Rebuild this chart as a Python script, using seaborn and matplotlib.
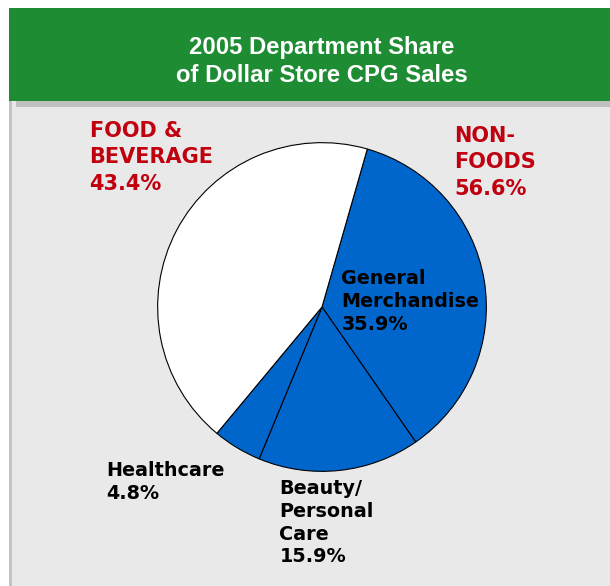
import matplotlib
matplotlib.use("Agg")
import matplotlib.pyplot as plt
from matplotlib.patches import Rectangle
import seaborn as sns

# ---- data ----
title_lines = ["2005 Department Share", "of Dollar Store CPG Sales"]
segments = ["General\nMerchandise", "Beauty/\nPersonal\nCare", "Healthcare", "FOOD &\nBEVERAGE"]
shares = [35.9, 15.9, 4.8, 43.4]
groups = ["FOOD &\nBEVERAGE", "NON-\nFOODS"]
group_shares = [43.4, 56.6]

# ---- style ----
sns.set_theme(style="white")
plt.rcParams["font.family"] = ["DejaVu Sans"]

W, H = 610, 586
GREEN = "#1e8c32"
BLUE = "#0066cc"
RED = "#c0000f"
PANEL = "#e9e9e9"

fig = plt.figure(figsize=(W / 100, H / 100), dpi=100)
fig.patch.set_facecolor("white")

# background axes in pixel coordinates
bg = fig.add_axes([0, 0, 1, 1])
bg.set_xlim(0, W)
bg.set_ylim(H, 0)
bg.axis("off")
bg.add_patch(Rectangle((9, 101), W - 9, H - 101, facecolor=PANEL, edgecolor="none"))
bg.add_patch(Rectangle((9, 101), 3, H - 101, facecolor="#c4c4c4", edgecolor="none"))
bg.add_patch(Rectangle((16, 101), W - 16, 6, facecolor="#c0c0c0", edgecolor="none"))
bg.add_patch(Rectangle((9, 8), W - 9, 93, facecolor=GREEN, edgecolor="none"))

bg.text(322, 36, "\n".join(title_lines), ha="center", va="top", color="white",
        fontsize=17.2, fontweight="bold", family="Liberation Sans", linespacing=1.3)

# pie
cx, cy, r = 322, 307, 166
ax = fig.add_axes([(cx - r) / W, (H - cy - r) / H, 2 * r / W, 2 * r / H])
colors = [BLUE, BLUE, BLUE, "white"]
ax.pie(shares, colors=colors, startangle=74, counterclock=False,
       wedgeprops=dict(edgecolor="black", linewidth=0.8))
ax.set_xlim(-1.01, 1.01)
ax.set_ylim(-1.01, 1.01)
ax.set_aspect("equal")
ax.axis("off")

# overlay axes for labels (on top of pie)
fg = fig.add_axes([0, 0, 1, 1])
fg.set_xlim(0, W)
fg.set_ylim(H, 0)
fg.axis("off")
fg.patch.set_alpha(0)

# group labels (red)
red_kw = dict(color=RED, fontsize=15, fontweight="bold", ha="left", va="top", linespacing=1.4)
fg.text(89.5, 121, f"{groups[0]}\n{group_shares[0]}%", **red_kw)
fg.text(454.5, 126, f"{groups[1]}\n{group_shares[1]}%", **red_kw)

# segment labels (black)
blk_kw = dict(color="black", fontsize=13.8, fontweight="bold", ha="left", va="top", linespacing=1.25)
fg.text(341.5, 269, f"{segments[0]}\n{shares[0]}%", **blk_kw)
fg.text(279.5, 479, f"{segments[1]}\n{shares[1]}%", **blk_kw)
fg.text(106.5, 461, f"{segments[2]}\n{shares[2]}%", **blk_kw)

fig.savefig("out.png", dpi=100)
